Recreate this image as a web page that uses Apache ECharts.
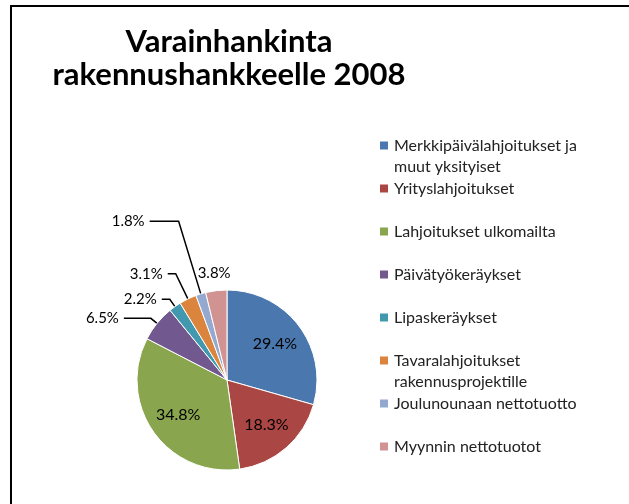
<!DOCTYPE html>
<html>
<head>
<meta charset="utf-8">
<script src="https://cdn.jsdelivr.net/npm/echarts@6/dist/echarts.min.js"></script>
<style>
  html, body { margin: 0; padding: 0; background: #fff; }
  #chart { width: 629px; height: 504px; }
</style>
</head>
<body>
<div id="chart"></div>
<script>
// chart data
const titleText = 'Varainhankinta\nrakennushankkeelle 2008'
const categories = [
  'Merkkipäivälahjoitukset ja\nmuut yksityiset',
  'Yrityslahjoitukset',
  'Lahjoitukset ulkomailta',
  'Päivätyökeräykset',
  'Lipaskeräykset',
  'Tavaralahjoitukset\nrakennusprojektille',
  'Joulunounaan nettotuotto',
  'Myynnin nettotuotot'
]
const shares = [29.4, 18.3, 34.8, 6.5, 2.2, 3.1, 1.8, 3.8]
const colors = ['#4A77AD', '#AA4643', '#89A54E', '#71588F', '#4198AF', '#DB843D', '#93A9CF', '#D19392']

const font = 'Lato, "Open Sans", sans-serif'
const pieCenter = [227, 380]

// leader line lengths for the small slices (index -> [length, length2])
const leaders = {
  3: [8, 27],
  4: [9, 8],
  5: [28, 8],
  6: [76, 29],
  7: [18, 0]
}

const chart = echarts.init(document.getElementById('chart'))

const seriesData = categories.map((name, i) => {
  const item = { name: name, value: shares[i], itemStyle: { color: colors[i] } }
  if (leaders[i]) {
    item.label = {
      position: 'outside',
      fontSize: 15,
      distanceToLabelLine: i === 7 ? 0 : 5
    }
    item.labelLine = {
      show: i !== 7,
      length: leaders[i][0],
      length2: leaders[i][1]
    }
  }
  return item
})

chart.setOption({
  animation: false,
  color: colors,
  title: {
    text: titleText,
    left: 224,
    top: 20,
    textAlign: 'center',
    textStyle: {
      fontFamily: font,
      fontSize: 31,
      fontWeight: 'bold',
      color: '#000',
      lineHeight: 33
    }
  },
  legend: {
    orient: 'vertical',
    left: 378,
    top: 137.5,
    padding: 0,
    itemGap: 5.5,
    itemWidth: 10,
    itemHeight: 10,
    icon: 'rect',
    textStyle: {
      fontFamily: font,
      fontSize: 16,
      color: '#222',
      rich: {
        a: { fontFamily: font, fontSize: 16, color: '#222', lineHeight: 43 },
        b: { fontFamily: font, fontSize: 16, color: '#222', lineHeight: 0 }
      }
    },
    formatter: function (name) {
      // marker stays on the first line, an optional second line hangs below
      const parts = name.split('\n')
      return '{a|' + parts[0] + '}\n{b|' + (parts[1] || ' ') + '}'
    },
    data: categories
  },
  graphic: [{
    type: 'rect',
    shape: { x: 11, y: 6, width: 700, height: 600 },
    style: { fill: 'none', stroke: '#000', lineWidth: 2 },
    silent: true
  }],
  series: [{
    type: 'pie',
    center: pieCenter,
    radius: 90,
    startAngle: 90,
    avoidLabelOverlap: false,
    itemStyle: { borderColor: '#fff', borderWidth: 1 },
    label: {
      show: true,
      position: 'inside',
      fontFamily: font,
      fontSize: 16,
      color: '#000',
      formatter: p => p.value.toFixed(1) + '%'
    },
    labelLine: {
      lineStyle: { color: '#000', width: 1.5 }
    },
    labelLayout: function (params) {
      if (params.dataIndex < 3) {
        const r = params.labelRect
        const cx = r.x + r.width / 2
        const cy = r.y + r.height / 2
        return { dx: (cx - pieCenter[0]) * 0.25, dy: (cy - pieCenter[1]) * 0.25 }
      }
      if (params.dataIndex === 7) {
        return { align: 'center' }
      }
    },
    data: seriesData
  }]
})
</script>
</body>
</html>
